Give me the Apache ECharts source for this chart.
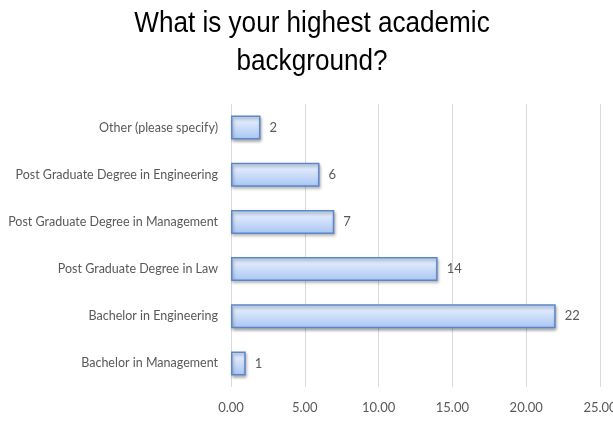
<!DOCTYPE html>
<html>
<head>
<meta charset="utf-8">
<script src="https://cdn.jsdelivr.net/npm/echarts@6/dist/echarts.min.js"></script>
<style>
  html, body { margin: 0; padding: 0; background: #ffffff; }
  #chart { width: 613px; height: 421px; }
</style>
</head>
<body>
<div id="chart"></div>
<script>
// Survey answers, listed bottom-to-top as the category axis draws them
const categories = [
  'Bachelor in Management',
  'Bachelor in Engineering',
  'Post Graduate Degree in Law',
  'Post Graduate Degree in Management',
  'Post Graduate Degree in Engineering',
  'Other (please specify)'
];
const counts = [1, 22, 14, 7, 6, 2];
const axisMin = 0;
const axisMax = 25;
const axisStep = 5;
const titleLines = ['What is your highest academic', 'background?'];

const labelFont = 'Lato, "Open Sans", sans-serif';
const titleFont = '"Liberation Sans", Arial, sans-serif';

// Title drawn as narrow text: tall glyphs squeezed horizontally
const titleText = (text, y) => ({
  type: 'text',
  x: 312,
  y: y,
  scaleX: 0.87,
  style: {
    text: text,
    x: 0,
    y: 0,
    textAlign: 'center',
    textVerticalAlign: 'top',
    font: '30px ' + titleFont,
    fill: '#000000'
  }
});

const chart = echarts.init(document.getElementById('chart'));
chart.setOption({
  animation: false,
  graphic: [titleText(titleLines[0], 8.5), titleText(titleLines[1], 47)],
  grid: {
    left: 231, right: 13, top: 104, bottom: 34,
    containLabel: false,
    outerBoundsMode: 'none'
  },
  xAxis: {
    type: 'value',
    min: axisMin,
    max: axisMax,
    interval: axisStep,
    axisLine: { show: false },
    axisTick: { show: false },
    splitLine: { lineStyle: { color: '#d9d9d9', width: 1 } },
    axisLabel: {
      margin: 14,
      color: '#595959',
      fontFamily: labelFont,
      fontSize: 13,
      formatter: v => v.toFixed(2)
    }
  },
  yAxis: {
    type: 'category',
    data: categories,
    axisLine: { show: false },
    axisTick: { show: false },
    axisLabel: {
      margin: 13,
      color: '#595959',
      fontFamily: labelFont,
      fontSize: 12.5
    }
  },
  series: [{
    type: 'bar',
    data: counts,
    barWidth: 24,
    itemStyle: {
      color: new echarts.graphic.LinearGradient(0, 0, 0, 1, [
        { offset: 0, color: '#d6e4fb' },
        { offset: 0.3, color: '#dbe7fc' },
        { offset: 1, color: '#a8c5f3' }
      ]),
      borderColor: '#5b87c9',
      borderWidth: 1.5,
      shadowColor: 'rgba(0,0,0,0.3)',
      shadowBlur: 3,
      shadowOffsetX: 1,
      shadowOffsetY: 2
    },
    label: {
      show: true,
      position: 'right',
      distance: 9,
      color: '#595959',
      fontFamily: labelFont,
      fontSize: 13
    }
  }]
});
</script>
</body>
</html>
